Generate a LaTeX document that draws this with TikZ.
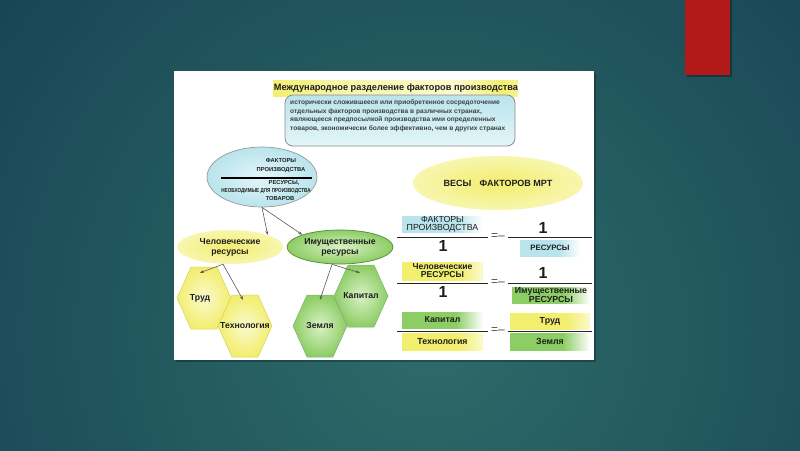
\documentclass[tikz,border=0pt]{standalone}
\usepackage{fontspec}
\setmainfont{Liberation Sans}
\usetikzlibrary{arrows.meta, positioning, shapes.geometric}

\definecolor{bgin}{RGB}{46,108,106}
\definecolor{bgout}{RGB}{18,58,78}
\definecolor{redbar}{RGB}{178,26,26}
\definecolor{ink}{RGB}{30,30,30}
\definecolor{ylw}{RGB}{242,238,110}
\definecolor{ylwp}{RGB}{251,250,205}
\definecolor{ylwd}{RGB}{215,210,90}
\definecolor{grn}{RGB}{140,205,100}
\definecolor{grnp}{RGB}{218,241,198}
\definecolor{grnd}{RGB}{80,140,55}
\definecolor{cyn}{RGB}{185,228,236}
\definecolor{cynp}{RGB}{228,246,249}

\pgfdeclarehorizontalshading{cynfade}{100bp}{color(0bp)=(cyn); color(25bp)=(cyn); color(58bp)=(cyn); color(75bp)=(white); color(100bp)=(white)}
\pgfdeclarehorizontalshading{ylwfade}{100bp}{color(0bp)=(ylw); color(25bp)=(ylw); color(60bp)=(ylw); color(75bp)=(ylwp); color(100bp)=(ylwp)}
\pgfdeclarehorizontalshading{grnfade}{100bp}{color(0bp)=(grn); color(25bp)=(grn); color(58bp)=(grn); color(75bp)=(white); color(100bp)=(white)}
\pgfdeclarehorizontalshading{ttlshade}{100bp}{color(0bp)=(white); color(25bp)=(ylw); color(38bp)=(ylw!60!white); color(62bp)=(ylwp); color(72bp)=(ylw); color(75bp)=(ylw!70); color(100bp)=(white)}

\newcommand{\fsz}[2]{\fontsize{#1}{#2}\selectfont}
% hexagon with its label node on top
\newcommand{\hexa}[4]{%
  \path[#3] (#2) ++(-27,0) -- ++(14,-31) -- ++(26,0) -- ++(14,31) -- ++(-14,31) -- ++(-26,0) -- cycle;
  \node[hexlbl] (#1) at (#2) {#4};}

\tikzset{
    txt/.style={text=ink, inner sep=0pt, align=center},
    lbl/.style={txt, font=\bfseries\fsz{8.7}{10}},
    captxt/.style={txt, font=\bfseries\fsz{5.8}{9}},
    facell/.style={ellipse, draw=gray!80, line width=0.7pt, inner color=cynp, outer color=cyn, minimum width=110, minimum height=60},
    humell/.style={ellipse, inner color=ylw, outer color=ylw!55!white, minimum width=106, minimum height=34},
    propell/.style={ellipse, draw=grnd, line width=0.7pt, inner color=grnp, outer color=grn, minimum width=106, minimum height=34},
    sclell/.style={ellipse, inner color=ylw, outer color=ylw!55!white, minimum width=170, minimum height=54},
    hexlbl/.style={lbl, minimum width=54, minimum height=62},
    yhex/.style={draw=ylwd, line width=0.5pt, inner color=ylwp, outer color=ylw},
    ghex/.style={draw=grnd!70, line width=0.5pt, inner color=grnp, outer color=grn},
    lnk/.style={-{Stealth[length=4pt, width=3pt]}, line width=0.6pt, black!65},
    fracbar/.style={line width=0.9pt, black!85},
    one/.style={txt, font=\bfseries\fsz{16}{16}},
    eqs/.style={txt, font=\fsz{12}{12}, text=ink!80},
    cbox/.style={txt, shade, shading=cynfade, minimum height=16},
    ybox/.style={txt, shade, shading=ylwfade, minimum height=16},
    gbox/.style={txt, shade, shading=grnfade, minimum height=16}
}

\begin{document}
\begin{tikzpicture}[x=1pt, y=-1pt]
    \useasboundingbox (0,0) rectangle (800,450);
    % slide backdrop
    \begin{scope}
        \clip (0,0) rectangle (800,450);
        \shade[inner color=bgin, outer color=bgout] (430,330) circle (700);
    \end{scope}
    \fill[black, opacity=0.3] (687,0) rectangle (732,77);
    \fill[redbar] (685,0) rectangle (730,75);
    \fill[black, opacity=0.25] (176,73) rectangle (596,362);
    \fill[white] (174,71) rectangle (594,360);

    % heading and definition
    \shade[shading=ttlshade] (273,80) rectangle (518,96);
    \node[txt, font=\bfseries\fsz{9.2}{10}] (title) at (396,88) {Международное разделение факторов производства};
    \node[draw=gray!90, line width=0.8pt, rounded corners=8pt, top color=cyn, bottom color=cynp,
          minimum width=230, minimum height=51] (def) at (400,120.5) {};
    \node[txt, anchor=north west, align=left, font=\bfseries\fsz{6.6}{8.7}, text=ink!85] (deftxt) at (290,99.5)
        {исторически сложившееся или приобретенное сосредоточение\\
         отдельных факторов производства в различных странах,\\
         являющееся предпосылкой производства ими определенных\\
         товаров, экономически более эффективно, чем в других странах};

    % left tree
    \node[facell] (fac) at (262,177) {};
    \node[captxt] (facup) at (281,165.5) {ФАКТОРЫ\\ПРОИЗВОДСТВА};
    \draw[line width=1.2pt] (221,178) -- (312,178);
    \node[captxt] (res) at (284,182.5) {РЕСУРСЫ,};
    \node[captxt] (need) at (266,191) {\scalebox{0.8}[1]{НЕОБХОДИМЫЕ ДЛЯ ПРОИЗВОДСТВА}};
    \node[captxt] (goods) at (280,198.5) {ТОВАРОВ};

    \node[humell, lbl] (hum) at (230,247) {Человеческие\\ресурсы};
    \node[propell, lbl] (prop) at (340,247) {Имущественные\\ресурсы};

    \hexa{trud}{204,298}{yhex}{Труд\hspace{8pt}}
    \hexa{tech}{245,326}{yhex}{Технология}
    \hexa{kap}{361,296}{ghex}{Капитал}
    \hexa{zem}{320,326}{ghex}{Земля}

    \draw[lnk] (fac.south) -- (hum.north east);
    \draw[lnk] (fac.south) -- (prop.north west);
    \draw[lnk] ([xshift=-7pt]hum.south) -- ([xshift=-4pt, yshift=-6pt]trud.north);
    \draw[lnk] ([xshift=-7pt]hum.south) -- ([xshift=-2pt, yshift=-5pt]tech.north);
    \draw[lnk] ([xshift=-8pt]prop.south) -- ([xshift=-1pt, yshift=-8pt]kap.north);
    \draw[lnk] ([xshift=-8pt]prop.south) -- ([yshift=-5pt]zem.north);

    % right side: weights
    \node[sclell, txt, font=\bfseries\fsz{9}{10}] (scl) at (498,183) {ВЕСЫ\hspace{0.9em}ФАКТОРОВ МРТ};

    \node[cbox, minimum width=81, font=\fsz{8.8}{7.8}] (fp) at (442.5,224) {ФАКТОРЫ\\ПРОИЗВОДСТВА};
    \draw[fracbar] (397,237) -- (488,237);
    \node[one] (fpd) at (443,246) {1};
    \node[eqs] (eq1) at (498,237) {=–};
    \node[one] (rsn) at (543,228) {1};
    \draw[fracbar] (508,237) -- (592,237);
    \node[cbox, minimum width=60, font=\bfseries\fsz{7.8}{8}] (rs) at (550,248) {РЕСУРСЫ};

    \node[ybox, minimum width=81, minimum height=18, font=\bfseries\fsz{8.6}{8}] (hr) at (442.5,271) {Человеческие\\РЕСУРСЫ};
    \draw[fracbar] (397,283) -- (488,283);
    \node[one] (hrd) at (443,292) {1};
    \node[eqs] (eq2) at (498,283) {=–};
    \node[one] (prn) at (543,273) {1};
    \draw[fracbar] (508,283) -- (592,283);
    \node[gbox, minimum width=78, font=\bfseries\fsz{8.8}{7.8}] (pr) at (551,295) {Имущественные\\РЕСУРСЫ};

    \node[gbox, minimum width=81, font=\bfseries\fsz{8.8}{10}] (kp) at (442.5,320) {Капитал};
    \draw[fracbar] (397,331) -- (488,331);
    \node[ybox, minimum width=81, minimum height=17, font=\bfseries\fsz{8.8}{10}] (th) at (442.5,341.5) {Технология};
    \node[eqs] (eq3) at (498,331) {=–};
    \node[ybox, minimum width=80, font=\bfseries\fsz{8.8}{10}] (tr) at (550,321) {Труд};
    \draw[fracbar] (508,331) -- (592,331);
    \node[gbox, minimum width=80, minimum height=17, font=\bfseries\fsz{8.8}{10}] (zm) at (550,341.5) {Земля};
\end{tikzpicture}
\end{document}
